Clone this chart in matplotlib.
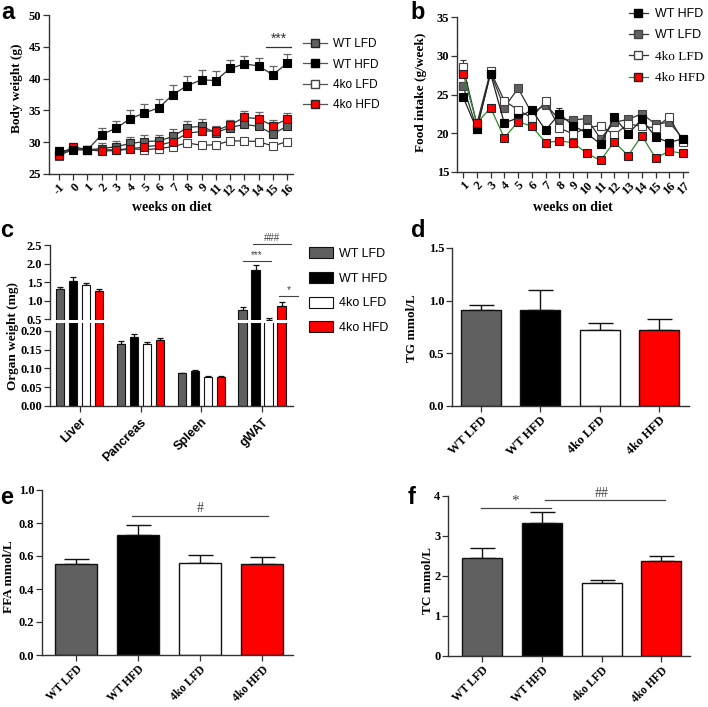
import numpy as np
import matplotlib
matplotlib.use("Agg")
import matplotlib.pyplot as plt
from matplotlib.lines import Line2D
from matplotlib.patches import Patch

# ---------------- data ----------------
groups = ['WT LFD', 'WT HFD', '4ko LFD', '4ko HFD']

weeks_a = ['-1', '0', '1', '2', '3', '4', '5', '6', '7', '8', '9', '11', '12', '13', '14', '15', '16']
wt_lfd_a = [28.2, 29.0, 28.8, 29.0, 29.3, 29.8, 30.1, 30.2, 30.9, 32.3, 32.5, 31.5, 32.3, 32.8, 32.5, 31.3, 32.5]
wt_lfd_a_err = [0.8, 0.7, 0.6, 0.8, 0.9, 1.0, 1.0, 1.0, 1.1, 1.1, 1.1, 0.9, 1.0, 1.1, 1.1, 1.1, 1.1]
wt_hfd_a = [28.6, 28.8, 28.8, 31.2, 32.2, 33.7, 34.6, 35.4, 37.5, 38.9, 39.8, 39.7, 41.6, 42.3, 42.0, 40.6, 42.4]
wt_hfd_a_err = [0.7, 0.6, 0.5, 1.0, 1.1, 1.3, 1.4, 1.4, 1.5, 1.5, 1.5, 1.5, 1.4, 1.3, 1.2, 1.4, 1.5]
ko_lfd_a = [27.9, 28.9, 28.8, 28.8, 28.8, 29.0, 28.8, 29.0, 29.3, 29.9, 29.5, 29.6, 30.2, 30.2, 30.1, 29.4, 30.1]
ko_lfd_a_err = [0.3, 0.3, 0.3, 0.3, 0.3, 0.3, 0.3, 0.3, 0.3, 0.3, 0.3, 0.3, 0.3, 0.3, 0.3, 0.3, 0.3]
ko_hfd_a = [28.0, 29.3, 28.8, 28.6, 28.7, 28.9, 29.3, 29.5, 30.1, 31.4, 31.7, 31.8, 32.7, 33.9, 33.7, 32.6, 33.6]
ko_hfd_a_err = [0.5, 0.6, 0.5, 0.5, 0.5, 0.6, 0.7, 0.7, 0.8, 0.9, 0.9, 0.8, 0.8, 1.0, 1.0, 0.9, 1.0]

weeks_b = [str(i) for i in range(1, 18)]
wt_hfd_b = [24.7, 20.5, 27.7, 21.3, 22.0, 23.0, 20.4, 22.5, 21.0, 20.0, 18.6, 22.1, 19.9, 21.8, 19.5, 18.8, 19.3]
wt_hfd_b_err = [0.4, 0.3, 0.4, 0.5, 0.4, 0.3, 0.3, 0.7, 0.3, 0.3, 0.3, 0.3, 0.3, 0.3, 0.3, 0.3, 0.3]
wt_lfd_b = [26.1, 20.6, 27.8, 23.3, 25.8, 22.6, 23.7, 21.8, 21.7, 21.9, 19.3, 21.4, 21.8, 22.5, 21.2, 21.4, 19.3]
wt_lfd_b_err = [0.5, 0.3, 0.4, 0.4, 0.3, 0.3, 0.3, 0.3, 0.3, 0.3, 0.3, 0.3, 0.3, 0.3, 0.3, 0.3, 0.3]
ko_lfd_b = [28.6, 21.2, 28.0, 24.2, 23.0, 22.0, 24.1, 20.7, 19.9, 20.7, 21.0, 19.8, 21.2, 20.9, 20.7, 22.1, 18.9]
ko_lfd_b_err = [0.9, 0.3, 0.4, 0.3, 0.3, 0.3, 0.3, 0.3, 0.3, 0.3, 0.3, 0.3, 0.3, 0.3, 0.3, 0.3, 0.3]
ko_hfd_b = [27.7, 21.3, 23.3, 19.4, 21.5, 20.9, 18.8, 19.0, 18.8, 17.4, 16.5, 18.9, 17.1, 19.7, 16.8, 17.7, 17.4]
ko_hfd_b_err = [0.6, 0.3, 0.3, 0.3, 0.3, 0.3, 0.3, 0.3, 0.3, 0.3, 0.3, 0.3, 0.3, 0.3, 0.3, 0.3, 0.3]

organs = ['Liver', 'Pancreas', 'Spleen', 'gWAT']
organ_vals = {
    'WT LFD':  [1.32, 0.166, 0.087, 0.75],
    'WT HFD':  [1.52, 0.183, 0.093, 1.82],
    '4ko LFD': [1.42, 0.164, 0.076, 0.49],
    '4ko HFD': [1.27, 0.175, 0.078, 0.86],
}
organ_errs = {
    'WT LFD':  [0.06, 0.006, 0.002, 0.07],
    'WT HFD':  [0.11, 0.008, 0.004, 0.13],
    '4ko LFD': [0.06, 0.006, 0.003, 0.04],
    '4ko HFD': [0.05, 0.005, 0.003, 0.11],
}

tg_vals = [0.91, 0.91, 0.72, 0.72]
tg_errs = [0.05, 0.19, 0.07, 0.11]
ffa_vals = [0.55, 0.73, 0.56, 0.55]
ffa_errs = [0.03, 0.06, 0.045, 0.045]
tc_vals = [2.44, 3.33, 1.83, 2.37]
tc_errs = [0.25, 0.26, 0.06, 0.13]

# ---------------- style ----------------
SERIF = 'Liberation Serif'
SANS = 'Liberation Sans'
GREY = '#606060'
RED = '#ff0000'
SPINE = '#333333'
bar_colors = [GREY, '#000000', '#ffffff', RED]
TICK_FS = 9

W, H = 708, 707
fig = plt.figure(figsize=(W / 100, H / 100), dpi=100)


def add_ax(l, r, t, b):
    return fig.add_axes([l / W, 1 - b / H, (r - l) / W, (b - t) / H])


def style_ax(ax, bottom=True):
    for s in ['top', 'right']:
        ax.spines[s].set_visible(False)
    for s in ['left', 'bottom']:
        ax.spines[s].set_color(SPINE)
        ax.spines[s].set_linewidth(1.0)
    if not bottom:
        ax.spines['bottom'].set_visible(False)
        ax.tick_params(axis='x', bottom=False, labelbottom=False)
    ax.tick_params(direction='out', length=4, width=0.9, color=SPINE, pad=1.5)
    for lab in ax.get_yticklabels():
        lab.set_fontfamily(SERIF)
        lab.set_fontweight('bold')
        lab.set_fontsize(TICK_FS)


def ftext(x, y, s, **kw):
    fig.text(x / W, 1 - y / H, s, **kw)


def panel_label(x, y, s):
    ftext(x, y, s, fontfamily=SANS, fontweight='bold', fontsize=17, va='top', ha='left')


def ylab(x, y, s):
    ftext(x, y, s, fontfamily=SERIF, fontweight='bold', fontsize=9.5, rotation=90,
          ha='center', va='center')

# ---------------- panel a ----------------
ax = add_ax(49, 293, 15, 174)
xa = np.arange(len(weeks_a))
series_a = [
    (wt_lfd_a, wt_lfd_a_err, GREY, '#222222'),
    (ko_lfd_a, ko_lfd_a_err, '#ffffff', '#444444'),
    (ko_hfd_a, ko_hfd_a_err, RED, '#222222'),
    (wt_hfd_a, wt_hfd_a_err, '#000000', '#000000'),
]
for vals, errs, fc, ec in series_a:
    ax.errorbar(xa, vals, yerr=[np.zeros(len(errs)), errs], fmt='none',
                ecolor='#666666', elinewidth=0.9, capsize=3, capthick=0.9, zorder=2)
    ax.plot(xa, vals, color='#333333', lw=0.9, marker='s', ms=6.2, mfc=fc,
            mec=ec, mew=0.8, zorder=3)
ax.set_xlim(-0.70, 16.42)
ax.set_ylim(25, 50)
ax.set_yticks([25, 30, 35, 40, 45, 50])
ax.set_xticks(xa)
ax.set_xticklabels(weeks_a, rotation=45, ha='right', rotation_mode='anchor',
                   fontfamily=SERIF, fontweight='bold', fontsize=TICK_FS)
style_ax(ax)
ax.plot([14.55, 16.25], [44.9, 44.9], color='#333333', lw=0.9, clip_on=False)
ax.text(15.4, 45.2, '***', ha='center', va='bottom', fontsize=10, color='#333333',
        fontfamily=SANS)
ftext(172, 208, 'weeks on diet', fontfamily=SERIF, fontweight='bold', fontsize=10,
      ha='center', va='center')
ylab(17, 88, 'Body weight (g)')
panel_label(1, 1, 'a')

hand_a = [
    Line2D([], [], color='#555555', lw=0.9, marker='s', ms=6.2, mfc=GREY, mec='#222222'),
    Line2D([], [], color='#555555', lw=0.9, marker='s', ms=6.2, mfc='#000000', mec='#000000'),
    Line2D([], [], color='#555555', lw=0.9, marker='s', ms=6.2, mfc='#ffffff', mec='#444444'),
    Line2D([], [], color='#555555', lw=0.9, marker='s', ms=6.2, mfc=RED, mec='#222222'),
]
leg = fig.legend(hand_a, groups, loc='upper left', bbox_to_anchor=(303 / W, 1 - 38 / H),
                 frameon=False, handlelength=2.0, handletextpad=0.5, labelspacing=0.72,
                 borderpad=0, borderaxespad=0,
                 prop={'family': SANS, 'size': 8.5})

# ---------------- panel b ----------------
ax = add_ax(457, 688, 17, 172)
xb = np.arange(1, len(weeks_b) + 1)
series_b = [
    (wt_lfd_b, wt_lfd_b_err, GREY, '#333333', '#444444'),
    (ko_lfd_b, ko_lfd_b_err, '#ffffff', '#333333', '#444444'),
    (wt_hfd_b, wt_hfd_b_err, '#000000', '#222222', '#000000'),
    (ko_hfd_b, ko_hfd_b_err, RED, '#2e8b2e', '#222222'),
]
for vals, errs, fc, lc, ec in series_b:
    ax.errorbar(xb, vals, yerr=[np.zeros(len(errs)), errs], fmt='none',
                ecolor=lc, elinewidth=0.8, capsize=2.5, capthick=0.8, zorder=2)
    ax.plot(xb, vals, color=lc, lw=0.9, marker='s', ms=6.3, mfc=fc, mec=ec,
            mew=0.8, zorder=3)
ax.set_xlim(0.56, 17.36)
ax.set_ylim(15, 35)
ax.set_yticks([15, 20, 25, 30, 35])
ax.set_xticks(xb)
ax.set_xticklabels(weeks_b, rotation=45, ha='right', rotation_mode='anchor',
                   fontfamily=SERIF, fontweight='bold', fontsize=TICK_FS)
style_ax(ax)
ftext(573, 208, 'weeks on diet', fontfamily=SERIF, fontweight='bold', fontsize=10,
      ha='center', va='center')
ylab(421, 92, 'Food intake (g/week)')
panel_label(410, 1, 'b')

hand_b = [
    Line2D([], [], color='#333333', lw=0.9, marker='s', ms=6.3, mfc='#000000', mec='#000000'),
    Line2D([], [], color='#333333', lw=0.9, marker='s', ms=6.3, mfc=GREY, mec='#444444'),
    Line2D([], [], color='#333333', lw=0.9, marker='s', ms=6.3, mfc='#ffffff', mec='#444444'),
    Line2D([], [], color='#2e8b2e', lw=0.9, marker='s', ms=6.3, mfc=RED, mec='#222222'),
]
labels_b = ['WT HFD', 'WT LFD', '4ko LFD', '4ko HFD']
leg = fig.legend(hand_b, labels_b, loc='upper left', bbox_to_anchor=(629 / W, 1 - 8 / H),
                 frameon=False, handlelength=1.5, handletextpad=0.6, labelspacing=0.75,
                 borderpad=0, borderaxespad=0,
                 prop={'family': SANS, 'size': 9})
for t in leg.get_texts()[2:]:
    t.set_fontfamily(SERIF)
    t.set_fontsize(9.5)

# ---------------- panel c ----------------
ax_up = add_ax(50, 293, 245, 320)
ax_lo = add_ax(50, 293, 323, 406)
xc = np.arange(len(organs))
offsets = [-0.321, -0.107, 0.107, 0.321]
bw = 0.135
for axc in (ax_up, ax_lo):
    for g, off, col in zip(groups, offsets, bar_colors):
        axc.bar(xc + off, organ_vals[g], width=bw, color=col, edgecolor='#111111',
                linewidth=0.8, zorder=2)
        axc.errorbar(xc + off, organ_vals[g],
                     yerr=[np.zeros(len(organs)), organ_errs[g]], fmt='none',
                     ecolor='#111111', elinewidth=0.9, capsize=2.5, capthick=0.9, zorder=1)
    axc.set_xlim(-0.49, 3.51)
ax_up.set_ylim(0.48, 2.5)
ax_up.set_yticks([0.5, 1.0, 1.5, 2.0, 2.5])
ax_up.set_yticklabels(['0.5', '1.0', '1.5', '2.0', '2.5'])
ax_up.spines['left'].set_bounds(0.5, 2.5)
style_ax(ax_up, bottom=False)
ax_lo.set_ylim(0, 0.2213)
ax_lo.set_yticks([0, 0.05, 0.10, 0.15, 0.20])
ax_lo.set_yticklabels(['0.00', '0.05', '0.10', '0.15', '0.20'])
ax_lo.spines['left'].set_bounds(0, 0.2)
ax_lo.set_xticks(xc)
ax_lo.set_xticklabels(organs, rotation=45, ha='right', rotation_mode='anchor',
                      fontfamily=SANS, fontweight='bold', fontsize=9)
style_ax(ax_lo)
ax_lo.tick_params(axis='x', pad=3)
# significance in c
sigc = '#444444'
ax_up.plot([2.68, 3.14], [2.08, 2.08], color=sigc, lw=0.8, clip_on=False)
ax_up.text(2.91, 2.1, '***', ha='center', va='bottom', fontsize=7, color=sigc, fontfamily=SANS)
ax_up.plot([2.85, 3.47], [2.54, 2.54], color=sigc, lw=0.8, clip_on=False)
ax_up.text(3.16, 2.56, '###', ha='center', va='bottom', fontsize=7, color=sigc, fontfamily=SANS)
ax_up.plot([3.28, 3.6], [1.12, 1.12], color=sigc, lw=0.8, clip_on=False)
ax_up.text(3.44, 1.14, '*', ha='center', va='bottom', fontsize=7.5, color=sigc, fontfamily=SANS)
ylab(13, 336, 'Organ weight (mg)')
panel_label(0, 219, 'c')

hand_c = [Patch(facecolor=c, edgecolor='#111111', linewidth=0.8) for c in bar_colors]
fig.legend(hand_c, groups, loc='upper left', bbox_to_anchor=(309 / W, 1 - 247 / H),
           frameon=False, handlelength=1.9, handleheight=1.0, handletextpad=0.5,
           labelspacing=0.95, borderpad=0, borderaxespad=0,
           prop={'family': SANS, 'size': 9})


def bar_panel(l, r, t, b, xlim, vals, errs, ylim, yticks, yticklabels, width, xfs):
    ax = add_ax(l, r, t, b)
    x = np.arange(len(groups))
    ax.bar(x, vals, width=width, color=bar_colors, edgecolor='#111111', linewidth=1.0, zorder=2)
    ax.errorbar(x, vals, yerr=[np.zeros(len(errs)), errs], fmt='none', ecolor='#111111',
                elinewidth=1.0, capsize=9, capthick=1.0, zorder=1)
    ax.set_xlim(*xlim)
    ax.set_ylim(*ylim)
    ax.set_yticks(yticks)
    ax.set_yticklabels(yticklabels)
    ax.set_xticks(x)
    ax.set_xticklabels(groups, rotation=45, ha='right', rotation_mode='anchor',
                       fontfamily=SERIF, fontweight='bold', fontsize=xfs)
    style_ax(ax)
    ax.tick_params(axis='x', pad=2)
    return ax

# ---------------- panel d ----------------
ax = bar_panel(452, 689, 248, 406, (-0.49, 3.51), tg_vals, tg_errs, (0, 1.5),
               [0, 0.5, 1.0, 1.5], ['0.0', '0.5', '1.0', '1.5'], 0.675, 9)
ylab(412, 328, 'TG mmol/L')
panel_label(411, 219, 'd')

# ---------------- panel e ----------------
ax = bar_panel(42, 293, 490, 655, (-0.55, 3.5), ffa_vals, ffa_errs, (0, 1.0),
               [0, 0.2, 0.4, 0.6, 0.8, 1.0], ['0.0', '0.2', '0.4', '0.6', '0.8', '1.0'], 0.68, 8.3)
ax.plot([0.9, 3.1], [0.84, 0.84], color='#444444', lw=0.9)
ax.text(2.0, 0.85, '#', ha='center', va='bottom', fontsize=10, color='#444444', fontfamily=SERIF)
ylab(9, 577, 'FFA mmol/L')
panel_label(0, 486, 'e')

# ---------------- panel f ----------------
ax = bar_panel(448, 690, 496, 656, (-0.57, 3.48), tc_vals, tc_errs, (0, 4),
               [0, 1, 2, 3, 4], ['0', '1', '2', '3', '4'], 0.67, 8.3)
ax.plot([-0.02, 1.15], [3.7, 3.7], color='#444444', lw=0.9)
ax.text(0.56, 3.72, '*', ha='center', va='bottom', fontsize=11, color='#444444', fontfamily=SERIF)
ax.plot([1.05, 3.06], [3.89, 3.89], color='#444444', lw=0.9)
ax.text(2.0, 3.9, '##', ha='center', va='bottom', fontsize=10, color='#444444', fontfamily=SERIF)
ylab(428, 581, 'TC mmol/L')
panel_label(408, 486, 'f')

fig.savefig('out.png', dpi=100)
